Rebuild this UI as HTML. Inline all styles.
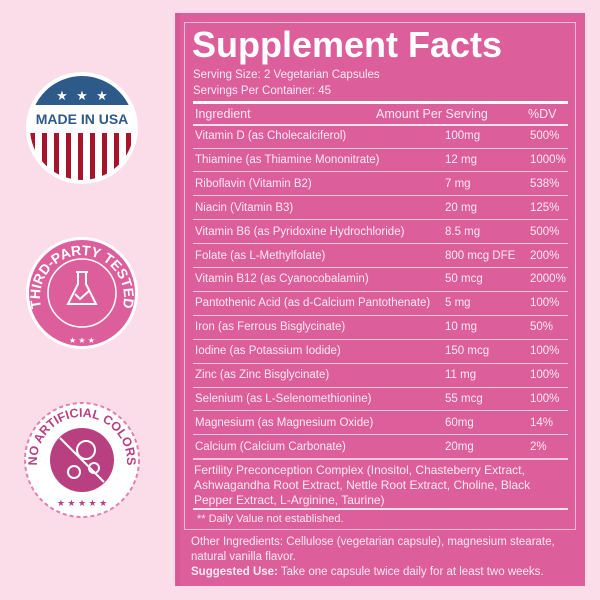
<!DOCTYPE html>
<html><head><meta charset="utf-8"><style>
body{margin:0;width:600px;height:600px;background:#fbdde9;position:relative;overflow:hidden;font-family:"Liberation Sans",sans-serif;}
.panel{position:absolute;left:175px;top:13px;width:410px;height:573px;background:#dc5f9c;}
.inner{position:absolute;left:184px;top:22px;width:390px;height:506px;border:1px solid #f4b9d4;}
.t{position:absolute;color:#fde9f2;font-size:11.5px;white-space:nowrap;line-height:1;}
.h{position:absolute;height:1px;left:193px;width:375px;background:#f6c7dc;}
</style></head><body>
<div class="panel"></div><div class="inner"></div>
<div class="t" style="left:192px;top:27px;font-size:36px;font-weight:bold;color:#fff;">Supplement Facts</div>
<div class="t" style="left:193px;top:70px;font-size:11.5px;">Serving Size: 2 Vegetarian Capsules</div>
<div class="t" style="left:193px;top:86px;font-size:11.5px;">Servings Per Container: 45</div>
<div class="h" style="top:101px;height:3px;background:#fff;"></div>
<div class="t" style="left:195px;top:108px;font-size:12.5px;">Ingredient</div>
<div class="t" style="left:376px;top:108px;font-size:12.5px;">Amount Per Serving</div>
<div class="t" style="left:528px;top:108px;font-size:12.5px;">%DV</div>
<div class="h" style="top:124px;height:2px;background:#fbe0ec;"></div>
<div id="rows"></div>
<script>
var r=[["Vitamin D (as Cholecalciferol)","100mg","500%"],["Thiamine (as Thiamine Mononitrate)","12 mg","1000%"],["Riboflavin (Vitamin B2)","7 mg","538%"],["Niacin (Vitamin B3)","20 mg","125%"],["Vitamin B6 (as Pyridoxine Hydrochloride)","8.5 mg","500%"],["Folate (as L-Methylfolate)","800 mcg DFE","200%"],["Vitamin B12 (as Cyanocobalamin)","50 mcg","2000%"],["Pantothenic Acid (as d-Calcium Pantothenate)","5 mg","100%"],["Iron (as Ferrous Bisglycinate)","10 mg","50%"],["Iodine (as Potassium Iodide)","150 mcg","100%"],["Zinc (as Zinc Bisglycinate)","11 mg","100%"],["Selenium (as L-Selenomethionine)","55 mcg","100%"],["Magnesium (as Magnesium Oxide)","60mg","14%"],["Calcium (Calcium Carbonate)","20mg","2%"]];
var h="";for(var i=0;i<r.length;i++){var c=136+23.9*i;var tp=c-5;
h+='<div class="t" style="left:195px;top:'+tp+'px">'+r[i][0]+'</div><div class="t" style="left:445px;top:'+tp+'px">'+r[i][1]+'</div><div class="t" style="left:530px;top:'+tp+'px">'+r[i][2]+'</div>';
h+='<div class="h" style="top:'+(c+11.5)+'px;'+(i==13?'height:2px;':'')+'"></div>';}
document.getElementById("rows").innerHTML=h;
</script>
<div class="t" style="left:194px;top:463px;line-height:15px;white-space:normal;width:378px;font-size:12px;">Fertility Preconception Complex (Inositol, Chasteberry Extract, Ashwagandha Root Extract, Nettle Root Extract, Choline, Black Pepper Extract, L-Arginine, Taurine)</div>
<div class="h" style="top:508px;height:2px;background:#fbe0ec;"></div>
<div class="t" style="left:197px;top:514px;font-size:11px;">** Daily Value not established.</div>
<div class="t" style="left:191px;top:535px;line-height:15px;white-space:normal;width:390px;">Other Ingredients: Cellulose (vegetarian capsule), magnesium stearate, natural vanilla flavor.<br><b>Suggested Use:</b> Take one capsule twice daily for at least two weeks.</div>
<div style="position:absolute;left:176px;top:13px;width:4px;height:573px;background:#c94d8a;opacity:.4"></div>
<svg width="170" height="600" style="position:absolute;left:0;top:0">
<defs><clipPath id="c1"><circle cx="82" cy="128" r="52"/></clipPath></defs>
<circle cx="82" cy="128" r="56" fill="#fff"/>
<g clip-path="url(#c1)">
<rect x="20" y="70" width="130" height="35" fill="#2e5a8a"/>
<g fill="#a5142a"><rect x="30" y="133" width="5" height="60"/><rect x="42" y="133" width="5" height="60"/><rect x="54" y="133" width="5" height="60"/><rect x="66" y="133" width="5" height="60"/><rect x="78" y="133" width="5" height="60"/><rect x="90" y="133" width="5" height="60"/><rect x="102" y="133" width="5" height="60"/><rect x="114" y="133" width="5" height="60"/><rect x="126" y="133" width="5" height="60"/></g>
</g>
<text x="62" y="100" fill="#fff" font-size="13" text-anchor="middle">★</text><text x="82" y="100" fill="#fff" font-size="13" text-anchor="middle">★</text><text x="102" y="100" fill="#fff" font-size="13" text-anchor="middle">★</text>
<text x="82" y="124" fill="#2e5a8a" font-size="14" font-weight="bold" text-anchor="middle" font-family="Liberation Sans">MADE IN USA</text>
<circle cx="82" cy="293" r="56" fill="#fff"/>
<circle cx="82" cy="293" r="53" fill="#dc5f9c"/>
<circle cx="82" cy="293" r="34" fill="none" stroke="#fff" stroke-width="1.5"/>
<path id="arc2" d="M42,310 A42,42 0 1,1 122,310" fill="none"/>
<text font-size="14" font-weight="bold" fill="#fff" font-family="Liberation Sans"><textPath href="#arc2" startOffset="50%" text-anchor="middle">THIRD-PARTY TESTED</textPath></text>
<path d="M76,272 h12 M78,272 v12 l-10,20 h28 l-10,-20 v-12" fill="none" stroke="#fff" stroke-width="2"/>
<path d="M75,294 l5,5 l9,-8" fill="none" stroke="#fff" stroke-width="2"/>
<text x="82" y="343" fill="#fff" font-size="8" text-anchor="middle">★ ★ ★</text>
<circle cx="82" cy="460" r="57" fill="#fff" stroke="#e27fb0" stroke-width="2" stroke-dasharray="4 3"/>
<circle cx="82" cy="460" r="32" fill="#b83f80"/>
<line x1="60" y1="438" x2="104" y2="482" stroke="#fff" stroke-width="2"/>
<circle cx="86" cy="450" r="9" fill="none" stroke="#fff" stroke-width="2"/>
<circle cx="74" cy="472" r="6" fill="none" stroke="#fff" stroke-width="2"/>
<circle cx="94" cy="468" r="5" fill="none" stroke="#fff" stroke-width="2"/>
<path id="arc3" d="M40,478 A45,45 0 1,1 124,478" fill="none"/>
<text font-size="12.5" font-weight="bold" fill="#b83f80" font-family="Liberation Sans"><textPath href="#arc3" startOffset="50%" text-anchor="middle">NO ARTIFICIAL COLORS</textPath></text>
<text x="82" y="506" fill="#b83f80" font-size="9" text-anchor="middle">★ ★ ★ ★ ★</text>
</svg>
</body></html>
